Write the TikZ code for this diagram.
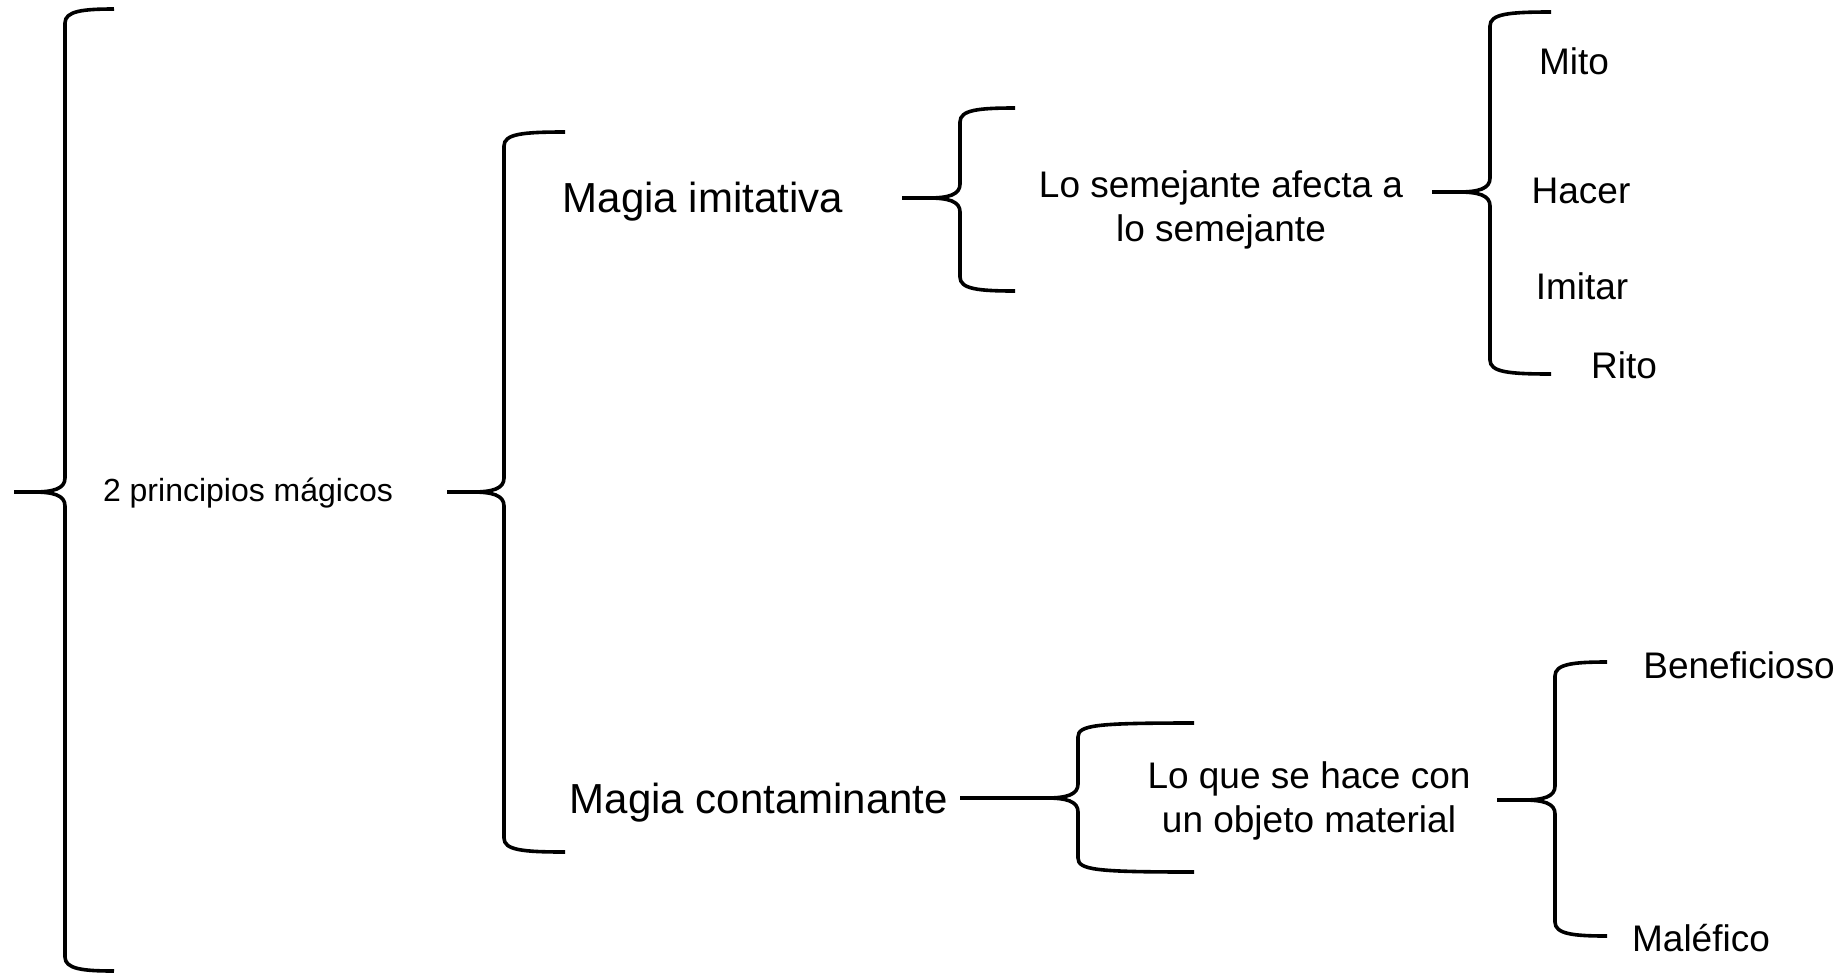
\documentclass[tikz,border=0pt]{standalone}
\usepackage{fontspec}
\setmainfont{Liberation Sans}
\usetikzlibrary{positioning}

% curly bracket: tip x, tip y, spine x, top y, bottom y, end x
\newcommand{\curly}[6]{%
  \draw[bracket] ({#6},{#4}) .. controls ({#3+18},{#4}) and ({#3},{#4+2}) .. ({#3},{#4+14})
    -- ({#3},{#2-14}) .. controls ({#3},{#2-3}) and ({#3-12},{#2}) .. ({#3-32},{#2}) -- ({#1},{#2});
  \draw[bracket] ({#6},{#5}) .. controls ({#3+18},{#5}) and ({#3},{#5-2}) .. ({#3},{#5-14})
    -- ({#3},{#2+14}) .. controls ({#3},{#2+3}) and ({#3-12},{#2}) .. ({#3-32},{#2});
}

\tikzset{
  bracket/.style={line width=1.8pt},
  smalltxt/.style={font=\fontsize{16}{19}\selectfont, inner sep=0pt, anchor=base},
  midtxt/.style={font=\fontsize{18.5}{22}\selectfont, inner sep=0pt, anchor=base, align=center},
  bigtxt/.style={font=\fontsize{21}{25}\selectfont, inner sep=0pt, anchor=base},
}

\begin{document}
\begin{tikzpicture}[x=0.5pt, y=-0.5pt]
  \useasboundingbox (0,0) rectangle (1846,975);

  % texts
  \node[smalltxt] (principios) at (248,501) {2 principios mágicos};
  \node[bigtxt] (imitativa) at (703,212) {Magia imitativa};
  \node[bigtxt] (contaminante) at (759,813) {Magia contaminante};
  \node[midtxt] (semejante) at (1221,241) {Lo semejante afecta a\\lo semejante};
  \node[midtxt] (contacto) at (1309,832) {Lo que se hace con\\un objeto material};
  \node[midtxt] (mito) at (1574,74) {Mito};
  \node[midtxt] (hacer) at (1581,203) {Hacer};
  \node[midtxt] (imitar) at (1582,299) {Imitar};
  \node[midtxt] (rito) at (1624,378) {Rito};
  \node[midtxt] (benef) at (1739,678) {Beneficioso};
  \node[midtxt] (malef) at (1701,951) {Maléfico};

  % brackets
  \curly{14}{492}{65}{9}{971}{114}
  \curly{447}{492}{504}{132}{852}{565}
  \curly{902}{198}{960}{108}{291}{1015}
  \curly{1432}{192}{1490}{12}{374}{1551}
  \curly{960}{798}{1078}{723}{872}{1194}
  \curly{1497}{800}{1555}{662}{936}{1607}
\end{tikzpicture}
\end{document}
